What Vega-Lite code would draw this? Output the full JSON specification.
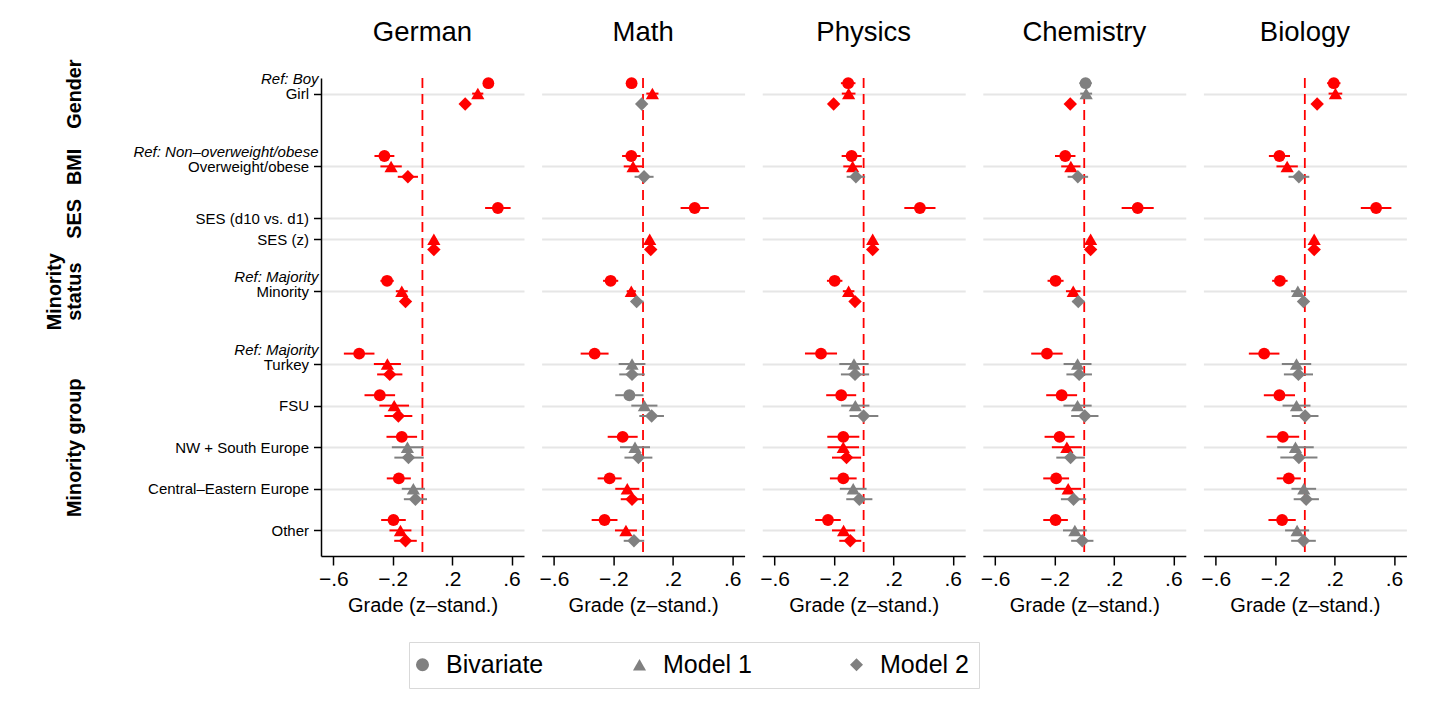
{
  "$schema": "https://vega.github.io/schema/vega-lite/v6.json",
  "background": "white",
  "padding": {"left": 44, "top": 18, "right": 10, "bottom": 10},
  "config": {
    "font": "Liberation Sans",
    "view": {"stroke": null},
    "title": {"fontSize": 27.5, "fontWeight": "normal", "color": "#000", "baseline": "alphabetic", "offset": 30.5}
  },
  "datasets": {
    "terms": [
      {"t": "Girl", "pos": 0}, {"t": "Overweight/obese", "pos": 7}, {"t": "SES (d10 vs. d1)", "pos": 12},
      {"t": "SES (z)", "pos": 14}, {"t": "Minority", "pos": 19}, {"t": "Turkey", "pos": 26}, {"t": "FSU", "pos": 30},
      {"t": "NW + South Europe", "pos": 34}, {"t": "Central–Eastern Europe", "pos": 38}, {"t": "Other", "pos": 42}
    ],
    "groups": [{"g": "Gender", "gpos": 0}, {"g": "BMI", "gpos": 7}, {"g": "SES", "gpos": 12}, {"g": "Minority status", "gpos": 19}, {"g": "Minority group", "gpos": 34}],
    "coef": [
      {"s": "German", "t": "Girl", "m": "Bivariate", "b": 0.444, "lo": 0.41, "hi": 0.48},
      {"s": "German", "t": "Girl", "m": "Model 1", "b": 0.373, "lo": 0.335, "hi": 0.41},
      {"s": "German", "t": "Girl", "m": "Model 2", "b": 0.288, "lo": 0.26, "hi": 0.316},
      {"s": "German", "t": "Overweight/obese", "m": "Bivariate", "b": -0.256, "lo": -0.323, "hi": -0.189},
      {"s": "German", "t": "Overweight/obese", "m": "Model 1", "b": -0.211, "lo": -0.283, "hi": -0.139},
      {"s": "German", "t": "Overweight/obese", "m": "Model 2", "b": -0.098, "lo": -0.166, "hi": -0.03},
      {"s": "German", "t": "SES (d10 vs. d1)", "m": "Bivariate", "b": 0.508, "lo": 0.422, "hi": 0.594},
      {"s": "German", "t": "SES (z)", "m": "Model 1", "b": 0.077, "lo": 0.06, "hi": 0.094},
      {"s": "German", "t": "SES (z)", "m": "Model 2", "b": 0.077, "lo": 0.06, "hi": 0.094},
      {"s": "German", "t": "Minority", "m": "Bivariate", "b": -0.238, "lo": -0.283, "hi": -0.193},
      {"s": "German", "t": "Minority", "m": "Model 1", "b": -0.139, "lo": -0.179, "hi": -0.099},
      {"s": "German", "t": "Minority", "m": "Model 2", "b": -0.114, "lo": -0.14, "hi": -0.088},
      {"s": "German", "t": "Turkey", "m": "Bivariate", "b": -0.426, "lo": -0.529, "hi": -0.323},
      {"s": "German", "t": "Turkey", "m": "Model 1", "b": -0.236, "lo": -0.327, "hi": -0.145},
      {"s": "German", "t": "Turkey", "m": "Model 2", "b": -0.22, "lo": -0.305, "hi": -0.135},
      {"s": "German", "t": "FSU", "m": "Bivariate", "b": -0.287, "lo": -0.39, "hi": -0.184},
      {"s": "German", "t": "FSU", "m": "Model 1", "b": -0.19, "lo": -0.29, "hi": -0.09},
      {"s": "German", "t": "FSU", "m": "Model 2", "b": -0.162, "lo": -0.256, "hi": -0.068},
      {"s": "German", "t": "NW + South Europe", "m": "Bivariate", "b": -0.139, "lo": -0.242, "hi": -0.036},
      {"s": "German", "t": "NW + South Europe", "m": "Model 1", "b": -0.101, "lo": -0.206, "hi": 0.004},
      {"s": "German", "t": "NW + South Europe", "m": "Model 2", "b": -0.094, "lo": -0.189, "hi": 0.009},
      {"s": "German", "t": "Central–Eastern Europe", "m": "Bivariate", "b": -0.159, "lo": -0.24, "hi": -0.078},
      {"s": "German", "t": "Central–Eastern Europe", "m": "Model 1", "b": -0.061, "lo": -0.139, "hi": 0.017},
      {"s": "German", "t": "Central–Eastern Europe", "m": "Model 2", "b": -0.047, "lo": -0.125, "hi": 0.031},
      {"s": "German", "t": "Other", "m": "Bivariate", "b": -0.195, "lo": -0.278, "hi": -0.112},
      {"s": "German", "t": "Other", "m": "Model 1", "b": -0.148, "lo": -0.222, "hi": -0.074},
      {"s": "German", "t": "Other", "m": "Model 2", "b": -0.114, "lo": -0.19, "hi": -0.038},

      {"s": "Math", "t": "Girl", "m": "Bivariate", "b": -0.077, "lo": -0.112, "hi": -0.042},
      {"s": "Math", "t": "Girl", "m": "Model 1", "b": 0.063, "lo": 0.022, "hi": 0.104},
      {"s": "Math", "t": "Girl", "m": "Model 2", "b": -0.009, "lo": -0.03, "hi": 0.012},
      {"s": "Math", "t": "Overweight/obese", "m": "Bivariate", "b": -0.079, "lo": -0.141, "hi": -0.017},
      {"s": "Math", "t": "Overweight/obese", "m": "Model 1", "b": -0.067, "lo": -0.13, "hi": -0.004},
      {"s": "Math", "t": "Overweight/obese", "m": "Model 2", "b": 0.007, "lo": -0.057, "hi": 0.071},
      {"s": "Math", "t": "SES (d10 vs. d1)", "m": "Bivariate", "b": 0.348, "lo": 0.253, "hi": 0.443},
      {"s": "Math", "t": "SES (z)", "m": "Model 1", "b": 0.045, "lo": 0.03, "hi": 0.06},
      {"s": "Math", "t": "SES (z)", "m": "Model 2", "b": 0.052, "lo": 0.037, "hi": 0.067},
      {"s": "Math", "t": "Minority", "m": "Bivariate", "b": -0.218, "lo": -0.269, "hi": -0.167},
      {"s": "Math", "t": "Minority", "m": "Model 1", "b": -0.079, "lo": -0.11, "hi": -0.048},
      {"s": "Math", "t": "Minority", "m": "Model 2", "b": -0.043, "lo": -0.08, "hi": 0.004},
      {"s": "Math", "t": "Turkey", "m": "Bivariate", "b": -0.326, "lo": -0.42, "hi": -0.232},
      {"s": "Math", "t": "Turkey", "m": "Model 1", "b": -0.074, "lo": -0.164, "hi": 0.016},
      {"s": "Math", "t": "Turkey", "m": "Model 2", "b": -0.074, "lo": -0.16, "hi": 0.012},
      {"s": "Math", "t": "FSU", "m": "Bivariate", "b": -0.092, "lo": -0.187, "hi": 0.003},
      {"s": "Math", "t": "FSU", "m": "Model 1", "b": 0.009, "lo": -0.079, "hi": 0.097},
      {"s": "Math", "t": "FSU", "m": "Model 2", "b": 0.058, "lo": -0.025, "hi": 0.141},
      {"s": "Math", "t": "NW + South Europe", "m": "Bivariate", "b": -0.137, "lo": -0.238, "hi": -0.036},
      {"s": "Math", "t": "NW + South Europe", "m": "Model 1", "b": -0.054, "lo": -0.155, "hi": 0.047},
      {"s": "Math", "t": "NW + South Europe", "m": "Model 2", "b": -0.031, "lo": -0.125, "hi": 0.063},
      {"s": "Math", "t": "Central–Eastern Europe", "m": "Bivariate", "b": -0.225, "lo": -0.306, "hi": -0.144},
      {"s": "Math", "t": "Central–Eastern Europe", "m": "Model 1", "b": -0.106, "lo": -0.187, "hi": -0.025},
      {"s": "Math", "t": "Central–Eastern Europe", "m": "Model 2", "b": -0.074, "lo": -0.15, "hi": -0.002},
      {"s": "Math", "t": "Other", "m": "Bivariate", "b": -0.259, "lo": -0.346, "hi": -0.172},
      {"s": "Math", "t": "Other", "m": "Model 1", "b": -0.115, "lo": -0.189, "hi": -0.041},
      {"s": "Math", "t": "Other", "m": "Model 2", "b": -0.061, "lo": -0.13, "hi": 0.008},

      {"s": "Physics", "t": "Girl", "m": "Bivariate", "b": -0.104, "lo": -0.153, "hi": -0.055},
      {"s": "Physics", "t": "Girl", "m": "Model 1", "b": -0.101, "lo": -0.147, "hi": -0.055},
      {"s": "Physics", "t": "Girl", "m": "Model 2", "b": -0.202, "lo": -0.225, "hi": -0.179},
      {"s": "Physics", "t": "Overweight/obese", "m": "Bivariate", "b": -0.081, "lo": -0.148, "hi": -0.014},
      {"s": "Physics", "t": "Overweight/obese", "m": "Model 1", "b": -0.074, "lo": -0.137, "hi": -0.011},
      {"s": "Physics", "t": "Overweight/obese", "m": "Model 2", "b": -0.052, "lo": -0.114, "hi": 0.01},
      {"s": "Physics", "t": "SES (d10 vs. d1)", "m": "Bivariate", "b": 0.379, "lo": 0.274, "hi": 0.484},
      {"s": "Physics", "t": "SES (z)", "m": "Model 1", "b": 0.061, "lo": 0.045, "hi": 0.077},
      {"s": "Physics", "t": "SES (z)", "m": "Model 2", "b": 0.061, "lo": 0.045, "hi": 0.077},
      {"s": "Physics", "t": "Minority", "m": "Bivariate", "b": -0.195, "lo": -0.247, "hi": -0.143},
      {"s": "Physics", "t": "Minority", "m": "Model 1", "b": -0.101, "lo": -0.14, "hi": -0.062},
      {"s": "Physics", "t": "Minority", "m": "Model 2", "b": -0.058, "lo": -0.09, "hi": -0.026},
      {"s": "Physics", "t": "Turkey", "m": "Bivariate", "b": -0.287, "lo": -0.395, "hi": -0.179},
      {"s": "Physics", "t": "Turkey", "m": "Model 1", "b": -0.065, "lo": -0.164, "hi": 0.034},
      {"s": "Physics", "t": "Turkey", "m": "Model 2", "b": -0.058, "lo": -0.153, "hi": 0.037},
      {"s": "Physics", "t": "FSU", "m": "Bivariate", "b": -0.151, "lo": -0.252, "hi": -0.05},
      {"s": "Physics", "t": "FSU", "m": "Model 1", "b": -0.056, "lo": -0.151, "hi": 0.039},
      {"s": "Physics", "t": "FSU", "m": "Model 2", "b": 0.0, "lo": -0.094, "hi": 0.099},
      {"s": "Physics", "t": "NW + South Europe", "m": "Bivariate", "b": -0.137, "lo": -0.245, "hi": -0.029},
      {"s": "Physics", "t": "NW + South Europe", "m": "Model 1", "b": -0.137, "lo": -0.243, "hi": -0.031},
      {"s": "Physics", "t": "NW + South Europe", "m": "Model 2", "b": -0.115, "lo": -0.213, "hi": -0.017},
      {"s": "Physics", "t": "Central–Eastern Europe", "m": "Bivariate", "b": -0.137, "lo": -0.227, "hi": -0.047},
      {"s": "Physics", "t": "Central–Eastern Europe", "m": "Model 1", "b": -0.07, "lo": -0.16, "hi": 0.02},
      {"s": "Physics", "t": "Central–Eastern Europe", "m": "Model 2", "b": -0.029, "lo": -0.117, "hi": 0.059},
      {"s": "Physics", "t": "Other", "m": "Bivariate", "b": -0.24, "lo": -0.326, "hi": -0.154},
      {"s": "Physics", "t": "Other", "m": "Model 1", "b": -0.135, "lo": -0.213, "hi": -0.057},
      {"s": "Physics", "t": "Other", "m": "Model 2", "b": -0.09, "lo": -0.164, "hi": -0.016},

      {"s": "Chemistry", "t": "Girl", "m": "Bivariate", "b": 0.009, "lo": -0.033, "hi": 0.051},
      {"s": "Chemistry", "t": "Girl", "m": "Model 1", "b": 0.013, "lo": -0.027, "hi": 0.053},
      {"s": "Chemistry", "t": "Girl", "m": "Model 2", "b": -0.094, "lo": -0.117, "hi": -0.071},
      {"s": "Chemistry", "t": "Overweight/obese", "m": "Bivariate", "b": -0.128, "lo": -0.197, "hi": -0.059},
      {"s": "Chemistry", "t": "Overweight/obese", "m": "Model 1", "b": -0.09, "lo": -0.155, "hi": -0.025},
      {"s": "Chemistry", "t": "Overweight/obese", "m": "Model 2", "b": -0.043, "lo": -0.112, "hi": 0.026},
      {"s": "Chemistry", "t": "SES (d10 vs. d1)", "m": "Bivariate", "b": 0.36, "lo": 0.252, "hi": 0.468},
      {"s": "Chemistry", "t": "SES (z)", "m": "Model 1", "b": 0.043, "lo": 0.027, "hi": 0.059},
      {"s": "Chemistry", "t": "SES (z)", "m": "Model 2", "b": 0.043, "lo": 0.027, "hi": 0.059},
      {"s": "Chemistry", "t": "Minority", "m": "Bivariate", "b": -0.193, "lo": -0.247, "hi": -0.139},
      {"s": "Chemistry", "t": "Minority", "m": "Model 1", "b": -0.074, "lo": -0.123, "hi": -0.025},
      {"s": "Chemistry", "t": "Minority", "m": "Model 2", "b": -0.04, "lo": -0.078, "hi": 0.002},
      {"s": "Chemistry", "t": "Turkey", "m": "Bivariate", "b": -0.251, "lo": -0.357, "hi": -0.145},
      {"s": "Chemistry", "t": "Turkey", "m": "Model 1", "b": -0.045, "lo": -0.139, "hi": 0.049},
      {"s": "Chemistry", "t": "Turkey", "m": "Model 2", "b": -0.034, "lo": -0.12, "hi": 0.052},
      {"s": "Chemistry", "t": "FSU", "m": "Bivariate", "b": -0.152, "lo": -0.256, "hi": -0.048},
      {"s": "Chemistry", "t": "FSU", "m": "Model 1", "b": -0.045, "lo": -0.14, "hi": 0.05},
      {"s": "Chemistry", "t": "FSU", "m": "Model 2", "b": 0.004, "lo": -0.088, "hi": 0.096},
      {"s": "Chemistry", "t": "NW + South Europe", "m": "Bivariate", "b": -0.166, "lo": -0.267, "hi": -0.065},
      {"s": "Chemistry", "t": "NW + South Europe", "m": "Model 1", "b": -0.117, "lo": -0.218, "hi": -0.016},
      {"s": "Chemistry", "t": "NW + South Europe", "m": "Model 2", "b": -0.092, "lo": -0.188, "hi": 0.004},
      {"s": "Chemistry", "t": "Central–Eastern Europe", "m": "Bivariate", "b": -0.189, "lo": -0.276, "hi": -0.102},
      {"s": "Chemistry", "t": "Central–Eastern Europe", "m": "Model 1", "b": -0.108, "lo": -0.195, "hi": -0.021},
      {"s": "Chemistry", "t": "Central–Eastern Europe", "m": "Model 2", "b": -0.072, "lo": -0.157, "hi": 0.013},
      {"s": "Chemistry", "t": "Other", "m": "Bivariate", "b": -0.193, "lo": -0.276, "hi": -0.11},
      {"s": "Chemistry", "t": "Other", "m": "Model 1", "b": -0.063, "lo": -0.143, "hi": 0.017},
      {"s": "Chemistry", "t": "Other", "m": "Model 2", "b": -0.013, "lo": -0.088, "hi": 0.062},

      {"s": "Biology", "t": "Girl", "m": "Bivariate", "b": 0.195, "lo": 0.15, "hi": 0.24},
      {"s": "Biology", "t": "Girl", "m": "Model 1", "b": 0.206, "lo": 0.16, "hi": 0.252},
      {"s": "Biology", "t": "Girl", "m": "Model 2", "b": 0.083, "lo": 0.06, "hi": 0.106},
      {"s": "Biology", "t": "Overweight/obese", "m": "Bivariate", "b": -0.171, "lo": -0.242, "hi": -0.1},
      {"s": "Biology", "t": "Overweight/obese", "m": "Model 1", "b": -0.119, "lo": -0.191, "hi": -0.047},
      {"s": "Biology", "t": "Overweight/obese", "m": "Model 2", "b": -0.04, "lo": -0.11, "hi": 0.03},
      {"s": "Biology", "t": "SES (d10 vs. d1)", "m": "Bivariate", "b": 0.48, "lo": 0.377, "hi": 0.583},
      {"s": "Biology", "t": "SES (z)", "m": "Model 1", "b": 0.063, "lo": 0.047, "hi": 0.079},
      {"s": "Biology", "t": "SES (z)", "m": "Model 2", "b": 0.063, "lo": 0.047, "hi": 0.079},
      {"s": "Biology", "t": "Minority", "m": "Bivariate", "b": -0.168, "lo": -0.22, "hi": -0.116},
      {"s": "Biology", "t": "Minority", "m": "Model 1", "b": -0.047, "lo": -0.092, "hi": 0.002},
      {"s": "Biology", "t": "Minority", "m": "Model 2", "b": -0.009, "lo": -0.04, "hi": 0.022},
      {"s": "Biology", "t": "Turkey", "m": "Bivariate", "b": -0.274, "lo": -0.377, "hi": -0.171},
      {"s": "Biology", "t": "Turkey", "m": "Model 1", "b": -0.056, "lo": -0.155, "hi": 0.043},
      {"s": "Biology", "t": "Turkey", "m": "Model 2", "b": -0.043, "lo": -0.141, "hi": 0.055},
      {"s": "Biology", "t": "FSU", "m": "Bivariate", "b": -0.171, "lo": -0.276, "hi": -0.066},
      {"s": "Biology", "t": "FSU", "m": "Model 1", "b": -0.056, "lo": -0.15, "hi": 0.038},
      {"s": "Biology", "t": "FSU", "m": "Model 2", "b": 0.002, "lo": -0.088, "hi": 0.092},
      {"s": "Biology", "t": "NW + South Europe", "m": "Bivariate", "b": -0.148, "lo": -0.258, "hi": -0.038},
      {"s": "Biology", "t": "NW + South Europe", "m": "Model 1", "b": -0.063, "lo": -0.186, "hi": 0.06},
      {"s": "Biology", "t": "NW + South Europe", "m": "Model 2", "b": -0.04, "lo": -0.165, "hi": 0.085},
      {"s": "Biology", "t": "Central–Eastern Europe", "m": "Bivariate", "b": -0.108, "lo": -0.189, "hi": -0.027},
      {"s": "Biology", "t": "Central–Eastern Europe", "m": "Model 1", "b": -0.007, "lo": -0.09, "hi": 0.076},
      {"s": "Biology", "t": "Central–Eastern Europe", "m": "Model 2", "b": 0.009, "lo": -0.075, "hi": 0.095},
      {"s": "Biology", "t": "Other", "m": "Bivariate", "b": -0.153, "lo": -0.245, "hi": -0.061},
      {"s": "Biology", "t": "Other", "m": "Model 1", "b": -0.052, "lo": -0.133, "hi": 0.029},
      {"s": "Biology", "t": "Other", "m": "Model 2", "b": -0.009, "lo": -0.092, "hi": 0.074}
    ]
  },
  "bounds": "flush",
  "spacing": 17.6,
  "hconcat": [
    {
      "width": 203, "height": 478,
      "title": {"text": "German", "offset": 12.5},
      "layer": [
        {
          "layer": [
            {"data": {"values": [{"z": 0}]}, "mark": {"type": "rule", "color": "#ff0000", "strokeDash": [10, 6], "strokeWidth": 1.8},
              "encoding": {"x": {"datum": 0, "type": "quantitative", "scale": {"domain": [-0.683, 0.684], "nice": false, "zero": false},
                "axis": {"values": [-0.6, -0.4, -0.2, 0, 0.2, 0.4, 0.6], "labelExpr": "replace(replace(format(datum.value,'.1~f'),'0.','.'),'-','–')", "title": "Grade (z–stand.)", "titleFontSize": 20, "titleFontWeight": "normal", "titleColor": "#000", "titlePadding": 6, "labelFontSize": 21, "labelColor": "#000", "labelPadding": 3, "tickSize": 9, "tickColor": "#000", "tickWidth": 1.5, "domainColor": "#000", "domainWidth": 1.5, "grid": false, "labelFlush": false, "labelOverlap": false}}}},
            {
              "data": {"name": "coef"},
              "transform": [{"filter": "datum.s == 'German'"}, {"lookup": "t", "from": {"data": {"name": "terms"}, "key": "t", "fields": ["pos"]}}],
              "encoding": {
                "y": {"field": "pos", "type": "quantitative", "scale": {"domain": [-1.5, 44.46], "reverse": true, "nice": false, "zero": false},
                  "axis": {"title": null, "values": [-1.42, 0, 5.58, 7, 12, 14, 17.58, 19, 24.58, 26, 30, 34, 38, 42],
                    "labelExpr": "datum.value==-1.42?'Ref: Boy':datum.value==0?'Girl':datum.value==5.58?'Ref: Non–overweight/obese':datum.value==7?'Overweight/obese':datum.value==12?'SES (d10 vs. d1)':datum.value==14?'SES (z)':datum.value==17.58?'Ref: Majority':datum.value==19?'Minority':datum.value==24.58?'Ref: Majority':datum.value==26?'Turkey':datum.value==30?'FSU':datum.value==34?'NW + South Europe':datum.value==38?'Central–Eastern Europe':'Other'",
                    "labelFontSize": 15, "labelColor": "#000", "labelFlush": false, "labelOverlap": false, "labelBound": false, "labelLimit": 0,
                    "labelFontStyle": {"condition": {"test": "datum.value != floor(datum.value)", "value": "italic"}, "value": "normal"},
                    "labelPadding": {"condition": {"test": "datum.value != floor(datum.value)", "value": -4.5}, "value": 5},
                    "tickOpacity": {"condition": {"test": "datum.value != floor(datum.value)", "value": 0}, "value": 1},
                    "gridOpacity": {"condition": {"test": "datum.value != floor(datum.value)", "value": 0}, "value": 1},
                    "tickSize": 7.5, "tickColor": "#000", "tickWidth": 1.5, "domainColor": "#000", "domainWidth": 1.5,
                    "grid": true, "gridColor": "#e6e6e6", "gridWidth": 2}},
                "color": {"condition": {"test": "datum.hi < 0 || datum.lo > 0", "value": "#ff0000"}, "value": "#808080"}
              },
              "layer": [
                {"transform": [{"filter": "datum.m == 'Bivariate'"}], "layer": [
                  {"mark": {"type": "rule", "strokeWidth": 2, "yOffset": -10.4}, "encoding": {"x": {"field": "lo", "type": "quantitative"}, "x2": {"field": "hi"}}},
                  {"mark": {"type": "point", "filled": true, "opacity": 1, "size": 140, "strokeWidth": 0, "yOffset": -10.4}, "encoding": {"x": {"field": "b", "type": "quantitative"},
                    "shape": {"field": "m", "type": "nominal", "scale": {"domain": ["Bivariate", "Model 1", "Model 2"], "range": ["circle", "triangle-up", "diamond"]},
                      "legend": {"title": null, "orient": "none", "legendX": 88, "legendY": 564, "direction": "horizontal", "columns": 3, "labelFontSize": 25, "labelColor": "#000", "symbolSize": 170, "symbolFillColor": "#808080", "symbolStrokeColor": "#808080", "symbolStrokeWidth": 0, "symbolOpacity": 1, "symbolOffset": -9, "labelOffset": 11, "columnPadding": 88, "gridAlign": "all", "strokeColor": "#d9d9d9", "padding": 10, "fillColor": "white"}}}}
                ]},
                {"transform": [{"filter": "datum.m == 'Model 1'"}], "layer": [
                  {"mark": {"type": "rule", "strokeWidth": 2}, "encoding": {"x": {"field": "lo", "type": "quantitative"}, "x2": {"field": "hi"}}},
                  {"mark": {"type": "point", "filled": true, "opacity": 1, "size": 175, "strokeWidth": 0}, "encoding": {"x": {"field": "b", "type": "quantitative"}, "shape": {"field": "m", "type": "nominal"}}}
                ]},
                {"transform": [{"filter": "datum.m == 'Model 2'"}], "layer": [
                  {"mark": {"type": "rule", "strokeWidth": 2, "yOffset": 10.4}, "encoding": {"x": {"field": "lo", "type": "quantitative"}, "x2": {"field": "hi"}}},
                  {"mark": {"type": "point", "filled": true, "opacity": 1, "size": 180, "strokeWidth": 0, "yOffset": 10.4}, "encoding": {"x": {"field": "b", "type": "quantitative"}, "shape": {"field": "m", "type": "nominal"}}}
                ]}
              ]
            }
          ]
        },
        {
          "data": {"name": "groups"},
          "mark": {"type": "rule", "opacity": 0},
          "encoding": {"y": {"field": "gpos", "type": "quantitative", "scale": {"domain": [-1.5, 44.46], "reverse": true, "nice": false, "zero": false},
            "axis": {"orient": "left", "title": null, "values": [0, 7, 12, 19, 34],
              "labelExpr": "datum.value==0?'Gender':datum.value==7?'BMI':datum.value==12?'SES':datum.value==19?['Minority','status']:'Minority group'",
              "labelAngle": 270, "labelAlign": "center", "labelBaseline": "bottom", "labelFontSize": 19.8, "labelFontWeight": "bold", "labelColor": "#000", "labelLineHeight": 20,
              "labelPadding": {"condition": {"test": "datum.value == 19", "value": 20}, "value": 0},
              "ticks": false, "tickSize": 0, "domain": false, "grid": false, "offset": 237, "labelFlush": false, "labelOverlap": false, "labelBound": false, "labelLimit": 0}}}
        }
      ],
      "resolve": {"scale": {"y": "independent"}, "axis": {"y": "independent"}}
    },
    {
      "width": 203, "height": 478,
      "title": {"text": "Math"},
      "layer": [
        {"data": {"values": [{"z": 0}]}, "mark": {"type": "rule", "color": "#ff0000", "strokeDash": [10, 6], "strokeWidth": 1.8},
          "encoding": {"x": {"datum": 0, "type": "quantitative", "scale": {"domain": [-0.683, 0.684], "nice": false, "zero": false},
            "axis": {"values": [-0.6, -0.4, -0.2, 0, 0.2, 0.4, 0.6], "labelExpr": "replace(replace(format(datum.value,'.1~f'),'0.','.'),'-','–')", "title": "Grade (z–stand.)", "titleFontSize": 20, "titleFontWeight": "normal", "titleColor": "#000", "titlePadding": 6, "labelFontSize": 21, "labelColor": "#000", "labelPadding": 3, "tickSize": 9, "tickColor": "#000", "tickWidth": 1.5, "domainColor": "#000", "domainWidth": 1.5, "grid": false, "labelFlush": false, "labelOverlap": false}}}},
        {
          "data": {"name": "coef"},
          "transform": [{"filter": "datum.s == 'Math'"}, {"lookup": "t", "from": {"data": {"name": "terms"}, "key": "t", "fields": ["pos"]}}],
          "encoding": {
            "y": {"field": "pos", "type": "quantitative", "scale": {"domain": [-1.5, 44.46], "reverse": true, "nice": false, "zero": false},
              "axis": {"title": null, "values": [0, 7, 12, 14, 19, 26, 30, 34, 38, 42], "labels": false, "ticks": false, "domain": false, "grid": true, "gridColor": "#e6e6e6", "gridWidth": 2}},
            "color": {"condition": {"test": "datum.hi < 0 || datum.lo > 0", "value": "#ff0000"}, "value": "#808080"}
          },
          "layer": [
            {"transform": [{"filter": "datum.m == 'Bivariate'"}], "layer": [
              {"mark": {"type": "rule", "strokeWidth": 2, "yOffset": -10.4}, "encoding": {"x": {"field": "lo", "type": "quantitative"}, "x2": {"field": "hi"}}},
              {"mark": {"type": "point", "filled": true, "opacity": 1, "size": 140, "strokeWidth": 0, "yOffset": -10.4}, "encoding": {"x": {"field": "b", "type": "quantitative"}, "shape": {"field": "m", "type": "nominal"}}}
            ]},
            {"transform": [{"filter": "datum.m == 'Model 1'"}], "layer": [
              {"mark": {"type": "rule", "strokeWidth": 2}, "encoding": {"x": {"field": "lo", "type": "quantitative"}, "x2": {"field": "hi"}}},
              {"mark": {"type": "point", "filled": true, "opacity": 1, "size": 175, "strokeWidth": 0}, "encoding": {"x": {"field": "b", "type": "quantitative"}, "shape": {"field": "m", "type": "nominal"}}}
            ]},
            {"transform": [{"filter": "datum.m == 'Model 2'"}], "layer": [
              {"mark": {"type": "rule", "strokeWidth": 2, "yOffset": 10.4}, "encoding": {"x": {"field": "lo", "type": "quantitative"}, "x2": {"field": "hi"}}},
              {"mark": {"type": "point", "filled": true, "opacity": 1, "size": 180, "strokeWidth": 0, "yOffset": 10.4}, "encoding": {"x": {"field": "b", "type": "quantitative"}, "shape": {"field": "m", "type": "nominal"}}}
            ]}
          ]
        }
      ]
    },
    {
      "width": 203, "height": 478,
      "title": {"text": "Physics"},
      "layer": [
        {"data": {"values": [{"z": 0}]}, "mark": {"type": "rule", "color": "#ff0000", "strokeDash": [10, 6], "strokeWidth": 1.8},
          "encoding": {"x": {"datum": 0, "type": "quantitative", "scale": {"domain": [-0.683, 0.684], "nice": false, "zero": false},
            "axis": {"values": [-0.6, -0.4, -0.2, 0, 0.2, 0.4, 0.6], "labelExpr": "replace(replace(format(datum.value,'.1~f'),'0.','.'),'-','–')", "title": "Grade (z–stand.)", "titleFontSize": 20, "titleFontWeight": "normal", "titleColor": "#000", "titlePadding": 6, "labelFontSize": 21, "labelColor": "#000", "labelPadding": 3, "tickSize": 9, "tickColor": "#000", "tickWidth": 1.5, "domainColor": "#000", "domainWidth": 1.5, "grid": false, "labelFlush": false, "labelOverlap": false}}}},
        {
          "data": {"name": "coef"},
          "transform": [{"filter": "datum.s == 'Physics'"}, {"lookup": "t", "from": {"data": {"name": "terms"}, "key": "t", "fields": ["pos"]}}],
          "encoding": {
            "y": {"field": "pos", "type": "quantitative", "scale": {"domain": [-1.5, 44.46], "reverse": true, "nice": false, "zero": false},
              "axis": {"title": null, "values": [0, 7, 12, 14, 19, 26, 30, 34, 38, 42], "labels": false, "ticks": false, "domain": false, "grid": true, "gridColor": "#e6e6e6", "gridWidth": 2}},
            "color": {"condition": {"test": "datum.hi < 0 || datum.lo > 0", "value": "#ff0000"}, "value": "#808080"}
          },
          "layer": [
            {"transform": [{"filter": "datum.m == 'Bivariate'"}], "layer": [
              {"mark": {"type": "rule", "strokeWidth": 2, "yOffset": -10.4}, "encoding": {"x": {"field": "lo", "type": "quantitative"}, "x2": {"field": "hi"}}},
              {"mark": {"type": "point", "filled": true, "opacity": 1, "size": 140, "strokeWidth": 0, "yOffset": -10.4}, "encoding": {"x": {"field": "b", "type": "quantitative"}, "shape": {"field": "m", "type": "nominal"}}}
            ]},
            {"transform": [{"filter": "datum.m == 'Model 1'"}], "layer": [
              {"mark": {"type": "rule", "strokeWidth": 2}, "encoding": {"x": {"field": "lo", "type": "quantitative"}, "x2": {"field": "hi"}}},
              {"mark": {"type": "point", "filled": true, "opacity": 1, "size": 175, "strokeWidth": 0}, "encoding": {"x": {"field": "b", "type": "quantitative"}, "shape": {"field": "m", "type": "nominal"}}}
            ]},
            {"transform": [{"filter": "datum.m == 'Model 2'"}], "layer": [
              {"mark": {"type": "rule", "strokeWidth": 2, "yOffset": 10.4}, "encoding": {"x": {"field": "lo", "type": "quantitative"}, "x2": {"field": "hi"}}},
              {"mark": {"type": "point", "filled": true, "opacity": 1, "size": 180, "strokeWidth": 0, "yOffset": 10.4}, "encoding": {"x": {"field": "b", "type": "quantitative"}, "shape": {"field": "m", "type": "nominal"}}}
            ]}
          ]
        }
      ]
    },
    {
      "width": 203, "height": 478,
      "title": {"text": "Chemistry"},
      "layer": [
        {"data": {"values": [{"z": 0}]}, "mark": {"type": "rule", "color": "#ff0000", "strokeDash": [10, 6], "strokeWidth": 1.8},
          "encoding": {"x": {"datum": 0, "type": "quantitative", "scale": {"domain": [-0.683, 0.684], "nice": false, "zero": false},
            "axis": {"values": [-0.6, -0.4, -0.2, 0, 0.2, 0.4, 0.6], "labelExpr": "replace(replace(format(datum.value,'.1~f'),'0.','.'),'-','–')", "title": "Grade (z–stand.)", "titleFontSize": 20, "titleFontWeight": "normal", "titleColor": "#000", "titlePadding": 6, "labelFontSize": 21, "labelColor": "#000", "labelPadding": 3, "tickSize": 9, "tickColor": "#000", "tickWidth": 1.5, "domainColor": "#000", "domainWidth": 1.5, "grid": false, "labelFlush": false, "labelOverlap": false}}}},
        {
          "data": {"name": "coef"},
          "transform": [{"filter": "datum.s == 'Chemistry'"}, {"lookup": "t", "from": {"data": {"name": "terms"}, "key": "t", "fields": ["pos"]}}],
          "encoding": {
            "y": {"field": "pos", "type": "quantitative", "scale": {"domain": [-1.5, 44.46], "reverse": true, "nice": false, "zero": false},
              "axis": {"title": null, "values": [0, 7, 12, 14, 19, 26, 30, 34, 38, 42], "labels": false, "ticks": false, "domain": false, "grid": true, "gridColor": "#e6e6e6", "gridWidth": 2}},
            "color": {"condition": {"test": "datum.hi < 0 || datum.lo > 0", "value": "#ff0000"}, "value": "#808080"}
          },
          "layer": [
            {"transform": [{"filter": "datum.m == 'Bivariate'"}], "layer": [
              {"mark": {"type": "rule", "strokeWidth": 2, "yOffset": -10.4}, "encoding": {"x": {"field": "lo", "type": "quantitative"}, "x2": {"field": "hi"}}},
              {"mark": {"type": "point", "filled": true, "opacity": 1, "size": 140, "strokeWidth": 0, "yOffset": -10.4}, "encoding": {"x": {"field": "b", "type": "quantitative"}, "shape": {"field": "m", "type": "nominal"}}}
            ]},
            {"transform": [{"filter": "datum.m == 'Model 1'"}], "layer": [
              {"mark": {"type": "rule", "strokeWidth": 2}, "encoding": {"x": {"field": "lo", "type": "quantitative"}, "x2": {"field": "hi"}}},
              {"mark": {"type": "point", "filled": true, "opacity": 1, "size": 175, "strokeWidth": 0}, "encoding": {"x": {"field": "b", "type": "quantitative"}, "shape": {"field": "m", "type": "nominal"}}}
            ]},
            {"transform": [{"filter": "datum.m == 'Model 2'"}], "layer": [
              {"mark": {"type": "rule", "strokeWidth": 2, "yOffset": 10.4}, "encoding": {"x": {"field": "lo", "type": "quantitative"}, "x2": {"field": "hi"}}},
              {"mark": {"type": "point", "filled": true, "opacity": 1, "size": 180, "strokeWidth": 0, "yOffset": 10.4}, "encoding": {"x": {"field": "b", "type": "quantitative"}, "shape": {"field": "m", "type": "nominal"}}}
            ]}
          ]
        }
      ]
    },
    {
      "width": 203, "height": 478,
      "title": {"text": "Biology"},
      "layer": [
        {"data": {"values": [{"z": 0}]}, "mark": {"type": "rule", "color": "#ff0000", "strokeDash": [10, 6], "strokeWidth": 1.8},
          "encoding": {"x": {"datum": 0, "type": "quantitative", "scale": {"domain": [-0.683, 0.684], "nice": false, "zero": false},
            "axis": {"values": [-0.6, -0.4, -0.2, 0, 0.2, 0.4, 0.6], "labelExpr": "replace(replace(format(datum.value,'.1~f'),'0.','.'),'-','–')", "title": "Grade (z–stand.)", "titleFontSize": 20, "titleFontWeight": "normal", "titleColor": "#000", "titlePadding": 6, "labelFontSize": 21, "labelColor": "#000", "labelPadding": 3, "tickSize": 9, "tickColor": "#000", "tickWidth": 1.5, "domainColor": "#000", "domainWidth": 1.5, "grid": false, "labelFlush": false, "labelOverlap": false}}}},
        {
          "data": {"name": "coef"},
          "transform": [{"filter": "datum.s == 'Biology'"}, {"lookup": "t", "from": {"data": {"name": "terms"}, "key": "t", "fields": ["pos"]}}],
          "encoding": {
            "y": {"field": "pos", "type": "quantitative", "scale": {"domain": [-1.5, 44.46], "reverse": true, "nice": false, "zero": false},
              "axis": {"title": null, "values": [0, 7, 12, 14, 19, 26, 30, 34, 38, 42], "labels": false, "ticks": false, "domain": false, "grid": true, "gridColor": "#e6e6e6", "gridWidth": 2}},
            "color": {"condition": {"test": "datum.hi < 0 || datum.lo > 0", "value": "#ff0000"}, "value": "#808080"}
          },
          "layer": [
            {"transform": [{"filter": "datum.m == 'Bivariate'"}], "layer": [
              {"mark": {"type": "rule", "strokeWidth": 2, "yOffset": -10.4}, "encoding": {"x": {"field": "lo", "type": "quantitative"}, "x2": {"field": "hi"}}},
              {"mark": {"type": "point", "filled": true, "opacity": 1, "size": 140, "strokeWidth": 0, "yOffset": -10.4}, "encoding": {"x": {"field": "b", "type": "quantitative"}, "shape": {"field": "m", "type": "nominal"}}}
            ]},
            {"transform": [{"filter": "datum.m == 'Model 1'"}], "layer": [
              {"mark": {"type": "rule", "strokeWidth": 2}, "encoding": {"x": {"field": "lo", "type": "quantitative"}, "x2": {"field": "hi"}}},
              {"mark": {"type": "point", "filled": true, "opacity": 1, "size": 175, "strokeWidth": 0}, "encoding": {"x": {"field": "b", "type": "quantitative"}, "shape": {"field": "m", "type": "nominal"}}}
            ]},
            {"transform": [{"filter": "datum.m == 'Model 2'"}], "layer": [
              {"mark": {"type": "rule", "strokeWidth": 2, "yOffset": 10.4}, "encoding": {"x": {"field": "lo", "type": "quantitative"}, "x2": {"field": "hi"}}},
              {"mark": {"type": "point", "filled": true, "opacity": 1, "size": 180, "strokeWidth": 0, "yOffset": 10.4}, "encoding": {"x": {"field": "b", "type": "quantitative"}, "shape": {"field": "m", "type": "nominal"}}}
            ]}
          ]
        }
      ]
    }
  ]
}
